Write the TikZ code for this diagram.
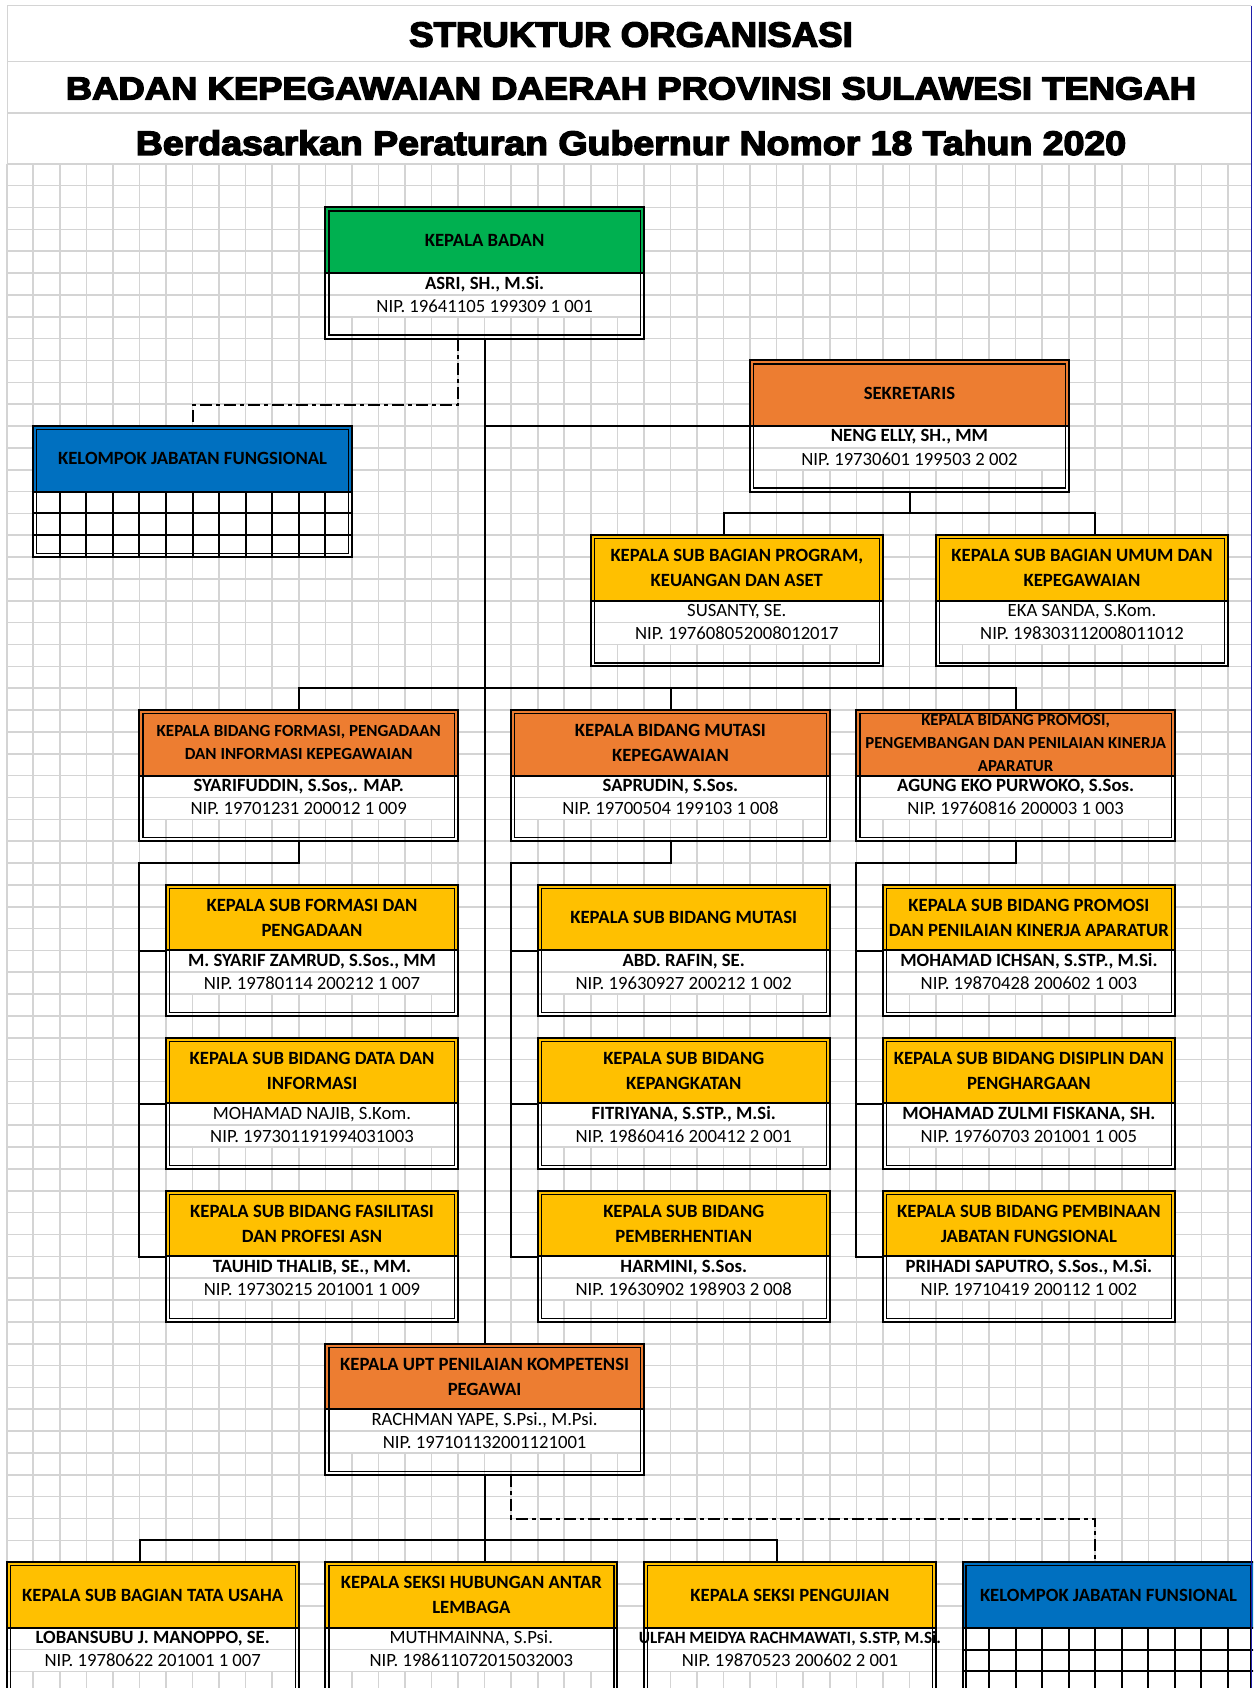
\documentclass[tikz,border=0pt]{standalone}
\usepackage{fontspec}
\usepackage{graphicx}
\setmainfont{Carlito}
\newfontfamily\titlefont{Liberation Sans}[BoldFeatures={FakeBold=4}]
\definecolor{gridc}{RGB}{212,212,212}
\definecolor{hgreen}{RGB}{0,176,80}
\definecolor{horange}{RGB}{237,125,49}
\definecolor{hgold}{RGB}{255,192,0}
\definecolor{hblue}{RGB}{0,112,192}
\definecolor{edgeblue}{RGB}{30,30,170}
\newcommand\cw{26.55pt}
\tikzset{
  gridline/.style={draw=gridc, line width=1.6pt},
  conn/.style={draw=black, line width=2pt},
  dashdotline/.style={draw=black, line width=2pt, dash pattern=on 12pt off 4pt on 4pt off 4pt},
  outerb/.style={draw=black, line width=2pt},
  innerb/.style={draw=black, line width=1.4pt},
  hdrtext/.style={align=center, inner sep=0pt, font=\fontsize{18.7}{25}\selectfont\bfseries},
  nametext/.style={inner sep=0pt, font=\fontsize{18.7}{22}\selectfont},
  hfont/.style={}, nfont/.style={},
  titletext/.style={anchor=base, inner sep=0pt},
}
% name, k1, j1, k2, header rows, colour, header text, name line, NIP line
\newcommand\orgbox[9]{%
  \fill[white] (#2,#3+#5) rectangle (#4,#3+#5+2);
  \draw[gridline] (#2,#3+#5+1) -- (#4,#3+#5+1) (#2,#3+#5+2) -- (#4,#3+#5+2);
  \fill[#6] (#2,#3) rectangle (#4,#3+#5);
  \draw[conn] (#2,#3+#5) -- (#4,#3+#5);
  \draw[outerb] (#2,#3) rectangle (#4,#3+#5+3);
  \draw[innerb] ([shift={(3.5pt,-3.5pt)}]#2,#3) rectangle ([shift={(-3.5pt,3.5pt)}]#4,#3+#5+3);
  \node[hdrtext,hfont] at ({(#2+#4)/2},{#3+#5/2}) {#7};
  \node[nametext,nfont] at ({(#2+#4)/2},{#3+#5+0.5}) {#8};
  \node[nametext] at ({(#2+#4)/2},{#3+#5+1.5}) {#9};
  \node[inner sep=0pt, minimum width={(#4-#2)*26.55pt}, minimum height={(#5+3)*21.85pt}, anchor=north west] (#1) at (#2,#3) {};
}
% name, k1, j1, k2, header text
\newcommand\kjfbox[5]{%
  \fill[white] (#2,#3+3) rectangle (#4,#3+6);
  \fill[hblue] (#2,#3) rectangle (#4,#3+3);
  \foreach \kk in {#2,...,#4} {\draw[conn] (\kk,#3+3) -- (\kk,#3+6);}
  \foreach \rr in {3,...,6} {\draw[conn] (#2,#3+\rr) -- (#4,#3+\rr);}
  \draw[outerb] (#2,#3) rectangle (#4,#3+6);
  \draw[innerb] ([shift={(3.5pt,-3.5pt)}]#2,#3) rectangle ([shift={(-3.5pt,3.5pt)}]#4,#3+6);
  \node[hdrtext] at ({(#2+#4)/2},{#3+1.5}) {#5};
  \node[inner sep=0pt, minimum width={(#4-#2)*26.55pt}, minimum height={6*21.85pt}, anchor=north west] (#1) at (#2,#3) {};
}
\begin{document}
\begin{tikzpicture}[x=1pt,y=-1pt]
\useasboundingbox (0,0) rectangle (1253,1688);
\clip (0,0) rectangle (1253,1688);
\fill[white] (0,0) rectangle (1253,1688);
% title block
\draw[gridline] (7.3,5.7) -- (1251.3,5.7) (7.3,61.7) -- (1251.3,61.7) (7.3,113.3) -- (1251.3,113.3) (7.3,5.7) -- (7.3,164.3);
\node[titletext] (t1) at (631,46.7) {\resizebox{443.6pt}{\height}{\titlefont\bfseries\fontsize{35}{40}\selectfont STRUKTUR ORGANISASI}};
\node[titletext] (t2) at (631,99.5) {\resizebox{1130.3pt}{\height}{\titlefont\bfseries\fontsize{32}{38}\selectfont BADAN KEPEGAWAIAN DAERAH PROVINSI SULAWESI TENGAH}};
\node[titletext] (t3) at (631,155) {\resizebox{990.3pt}{\height}{\titlefont\bfseries\fontsize{34}{40}\selectfont Berdasarkan Peraturan Gubernur Nomor 18 Tahun 2020}};
\begin{scope}[shift={(6.7,163.8)}, x=26.55pt, y=-21.85pt]
  % sheet grid
  \foreach \k in {0,...,46} {\draw[gridline] (\k,0) -- (\k,70);}
  \foreach \j in {0,...,70} {\draw[gridline] (0,\j) -- (46.88,\j);}
  % boxes
  \orgbox{kb}{12}{2}{24}{3}{hgreen}{KEPALA BADAN}{\bfseries ASRI, SH., M.Si.}{NIP. 19641105 199309 1 001}
  \kjfbox{kjf}{1}{12}{13}{KELOMPOK JABATAN FUNGSIONAL}
  \orgbox{sek}{28}{9}{40}{3}{horange}{SEKRETARIS}{\bfseries NENG ELLY, SH., MM}{NIP. 19730601 199503 2 002}
  \orgbox{sbp}{22}{17}{33}{3}{hgold}{KEPALA SUB BAGIAN PROGRAM,\\KEUANGAN DAN ASET}{SUSANTY, SE.}{NIP. 197608052008012017}
  \orgbox{sbu}{35}{17}{46}{3}{hgold}{KEPALA SUB BAGIAN UMUM DAN\\KEPEGAWAIAN}{EKA SANDA, S.Kom.}{NIP. 198303112008011012}
  {\tikzset{hfont/.style={font=\fontsize{17}{23.3}\selectfont\bfseries}}
  \orgbox{bfa}{5}{25}{17}{3}{horange}{KEPALA BIDANG FORMASI, PENGADAAN\\DAN INFORMASI KEPEGAWAIAN}{\bfseries SYARIFUDDIN, S.Sos,. MAP.}{NIP. 19701231 200012 1 009}}
  \orgbox{bmu}{19}{25}{31}{3}{horange}{KEPALA BIDANG MUTASI\\KEPEGAWAIAN}{\bfseries SAPRUDIN, S.Sos.}{NIP. 19700504 199103 1 008}
  {\tikzset{hfont/.style={font=\fontsize{16.8}{22.8}\selectfont\bfseries}}
  \orgbox{bpr}{32}{25}{44}{3}{horange}{KEPALA BIDANG PROMOSI,\\PENGEMBANGAN DAN PENILAIAN KINERJA\\APARATUR}{\bfseries AGUNG EKO PURWOKO, S.Sos.}{NIP. 19760816 200003 1 003}}
  \orgbox{sa1}{6}{33}{17}{3}{hgold}{KEPALA SUB FORMASI DAN\\PENGADAAN}{\bfseries M. SYARIF ZAMRUD, S.Sos., MM}{NIP. 19780114 200212 1 007}
  \orgbox{sa2}{6}{40}{17}{3}{hgold}{KEPALA SUB BIDANG DATA DAN\\INFORMASI}{MOHAMAD NAJIB, S.Kom.}{NIP. 197301191994031003}
  \orgbox{sa3}{6}{47}{17}{3}{hgold}{KEPALA SUB BIDANG FASILITASI\\DAN PROFESI ASN}{\bfseries TAUHID THALIB, SE., MM.}{NIP. 19730215 201001 1 009}
  \orgbox{sb1}{20}{33}{31}{3}{hgold}{KEPALA SUB BIDANG MUTASI}{\bfseries ABD. RAFIN, SE.}{NIP. 19630927 200212 1 002}
  \orgbox{sb2}{20}{40}{31}{3}{hgold}{KEPALA SUB BIDANG\\KEPANGKATAN}{\bfseries FITRIYANA, S.STP., M.Si.}{NIP. 19860416 200412 2 001}
  \orgbox{sb3}{20}{47}{31}{3}{hgold}{KEPALA SUB BIDANG\\PEMBERHENTIAN}{\bfseries HARMINI, S.Sos.}{NIP. 19630902 198903 2 008}
  \orgbox{sc1}{33}{33}{44}{3}{hgold}{KEPALA SUB BIDANG PROMOSI\\DAN PENILAIAN KINERJA APARATUR}{\bfseries MOHAMAD ICHSAN, S.STP., M.Si.}{NIP. 19870428 200602 1 003}
  \orgbox{sc2}{33}{40}{44}{3}{hgold}{KEPALA SUB BIDANG DISIPLIN DAN\\PENGHARGAAN}{\bfseries MOHAMAD ZULMI FISKANA, SH.}{NIP. 19760703 201001 1 005}
  \orgbox{sc3}{33}{47}{44}{3}{hgold}{KEPALA SUB BIDANG PEMBINAAN\\JABATAN FUNGSIONAL}{\bfseries PRIHADI SAPUTRO, S.Sos., M.Si.}{NIP. 19710419 200112 1 002}
  \orgbox{upt}{12}{54}{24}{3}{horange}{KEPALA UPT PENILAIAN KOMPETENSI\\PEGAWAI}{RACHMAN YAPE, S.Psi., M.Psi.}{NIP. 197101132001121001}
  \orgbox{b1}{0}{64}{11}{3}{hgold}{KEPALA SUB BAGIAN TATA USAHA}{\bfseries LOBANSUBU J. MANOPPO, SE.}{NIP. 19780622 201001 1 007}
  \orgbox{b2}{12}{64}{23}{3}{hgold}{KEPALA SEKSI HUBUNGAN ANTAR\\LEMBAGA}{MUTHMAINNA, S.Psi.}{NIP. 198611072015032003}
  {\tikzset{nfont/.style={font=\fontsize{17.2}{21}\selectfont}}
  \orgbox{b3}{24}{64}{35}{3}{hgold}{KEPALA SEKSI PENGUJIAN}{\bfseries ULFAH MEIDYA RACHMAWATI, S.STP, M.Si.}{NIP. 19870523 200602 2 001}}
  \kjfbox{kjf2}{36}{64}{47}{KELOMPOK JABATAN FUNSIONAL}
  % connectors
  \draw[conn] (kb.south) -- (upt.north);
  \draw[dashdotline] ([xshift=-\cw]kb.south) -- ++(0,3) -| (kjf.north);
  \draw[conn] (sek.west) -- (sek.west -| kb.south);
  \draw[conn] (sek.south) -- ++(0,1);
  \draw[conn] ([xshift=-0.5*\cw]sbp.north) -- ++(0,-1) -| ([xshift=0.5*\cw]sbu.north);
  \draw[conn] (bfa.north) -- ++(0,-1) -| (bpr.north);
  \draw[conn] (bmu.north) -- ++(0,-1);
  \draw[conn] (bfa.south) -- ++(0,1) -| ([xshift=-\cw]sa3.west) -- (sa3.west);
  \draw[conn] ([xshift=-\cw]sa1.west) -- (sa1.west);
  \draw[conn] ([xshift=-\cw]sa2.west) -- (sa2.west);
  \draw[conn] (bmu.south) -- ++(0,1) -| ([xshift=-\cw]sb3.west) -- (sb3.west);
  \draw[conn] ([xshift=-\cw]sb1.west) -- (sb1.west);
  \draw[conn] ([xshift=-\cw]sb2.west) -- (sb2.west);
  \draw[conn] (bpr.south) -- ++(0,1) -| ([xshift=-\cw]sc3.west) -- (sc3.west);
  \draw[conn] ([xshift=-\cw]sc1.west) -- (sc1.west);
  \draw[conn] ([xshift=-\cw]sc2.west) -- (sc2.west);
  \draw[conn] (upt.south) -- (upt.south |- b2.north);
  \draw[conn] ([xshift=-0.5*\cw]b1.north) -- ++(0,-1) -| ([xshift=-0.5*\cw]b3.north);
  \draw[dashdotline] ([xshift=\cw]upt.south) -- ++(0,2) -| ([xshift=-0.5*\cw]kjf2.north);
\end{scope}
\draw[edgeblue, line width=1.2pt] (1251.3,5.7) -- (1251.3,1688);
\end{tikzpicture}
\end{document}
